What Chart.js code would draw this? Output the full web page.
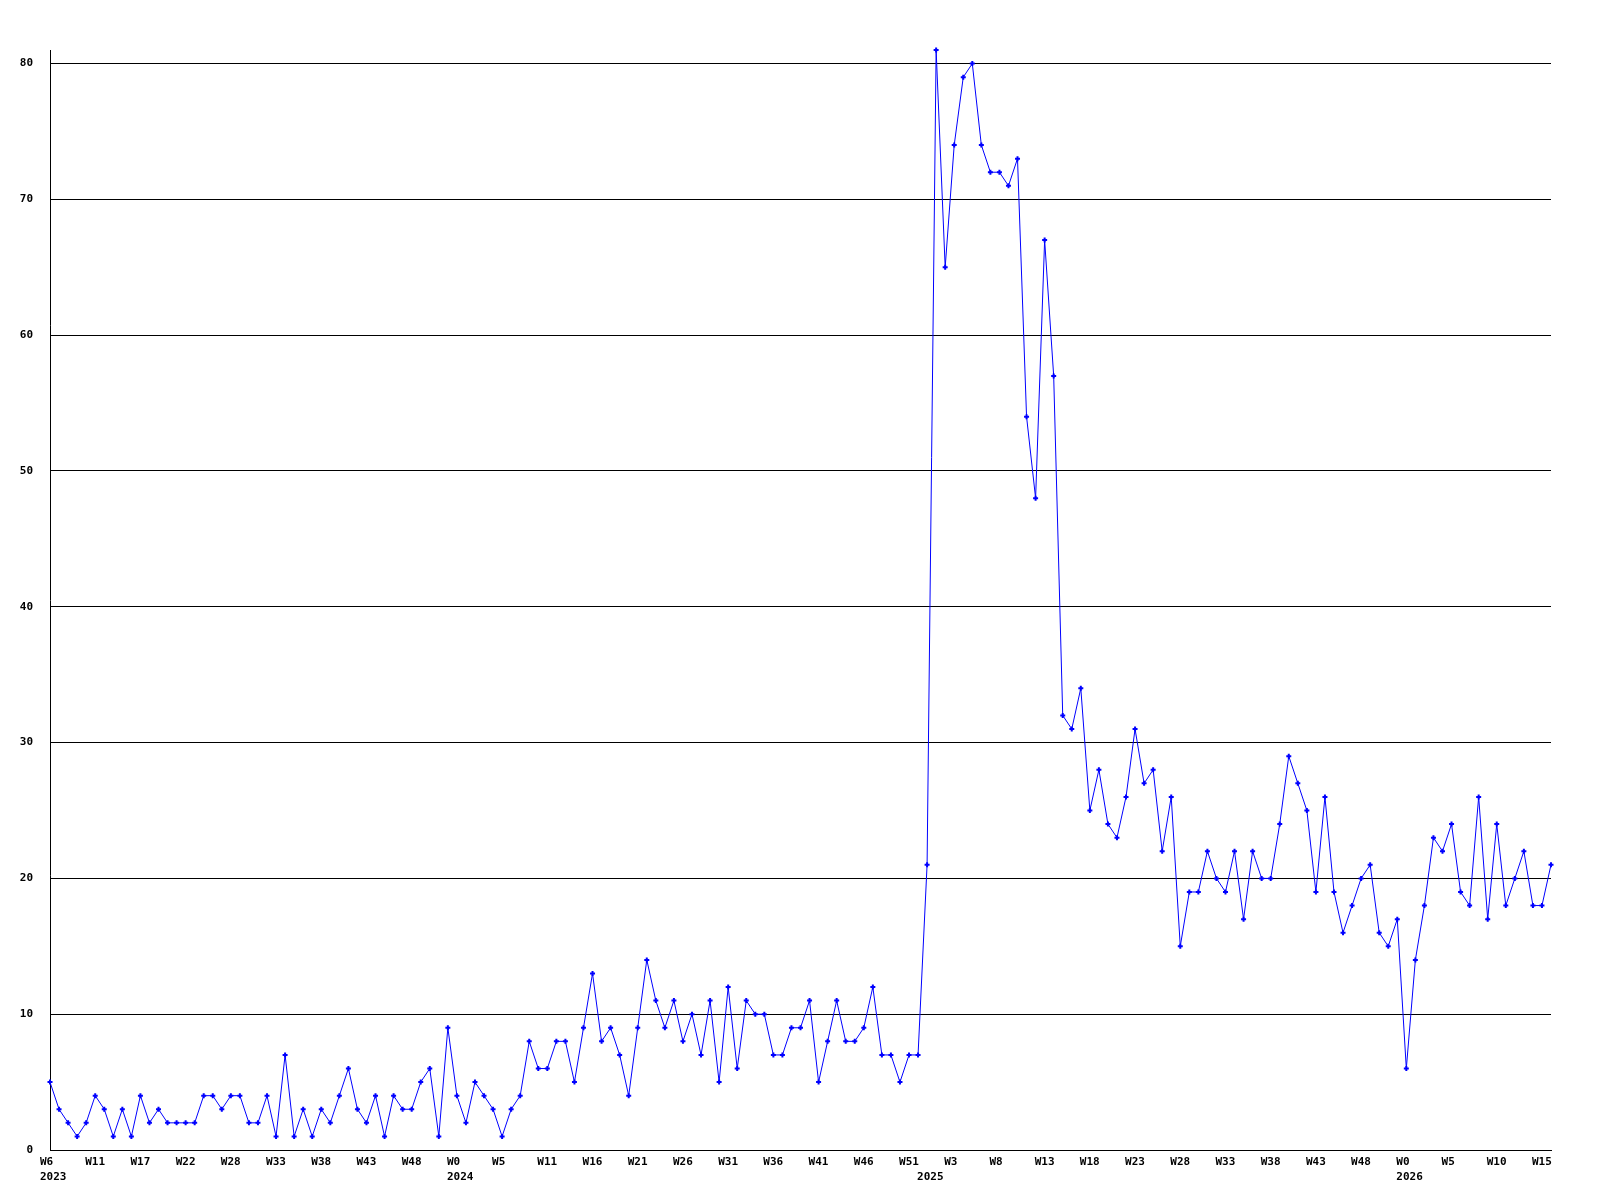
<!DOCTYPE html>
<html>
<head>
<meta charset="utf-8">
<script src="https://cdn.jsdelivr.net/npm/chart.js@4.4.1/dist/chart.umd.min.js"></script>
<style>
  body { margin: 0; background: #fff; }
  #chart { display: block; }
</style>
</head>
<body>
<canvas id="chart" width="1600" height="1200"></canvas>
<script>
// weekly counts, W6 2023 .. W16 2026
var counts = [
  5, 3, 2, 1, 2, 4, 3, 1, 3, 1, 4, 2, 3, 2, 2, 2, 2, 4, 4, 3, 4, 4, 2, 2, 4, 1, 7, 1, 3, 1, 3, 2, 4,
  6, 3, 2, 4, 1, 4, 3, 3, 5, 6, 1, 9, 4, 2, 5, 4, 3, 1, 3, 4, 8, 6, 6, 8, 8, 5, 9, 13, 8, 9, 7, 4, 9, 14, 11, 9,
  11, 8, 10, 7, 11, 5, 12, 6, 11, 10, 10, 7, 7, 9, 9, 11, 5, 8, 11, 8, 8, 9, 12, 7, 7, 5, 7, 7,
  21, 81, 65, 74, 79, 80, 74, 72, 72, 71, 73, 54, 48, 67, 57,
  32, 31, 34, 25, 28, 24, 23, 26, 31, 27, 28, 22, 26, 15, 19, 19, 22, 20, 19, 22, 17, 22, 20, 20, 24,
  29, 27, 25, 19, 26, 19, 16, 18, 20, 21, 16, 15, 17, 6, 14, 18, 23, 22, 24, 19, 18, 26, 17, 24, 18, 20, 22, 18, 18, 21
];

// a week label every 5th point
var weekTicks = ['W6', 'W11', 'W17', 'W22', 'W28', 'W33', 'W38', 'W43', 'W48',
  'W0', 'W5', 'W11', 'W16', 'W21', 'W26', 'W31', 'W36', 'W41', 'W46', 'W51',
  'W3', 'W8', 'W13', 'W18', 'W23', 'W28', 'W33', 'W38', 'W43', 'W48',
  'W0', 'W5', 'W10', 'W15'];
var weekTickStep = 5;

// year under the first point of each year
var years = ['2023', '2024', '2025', '2026'];
var yearStart = [0, 45, 97, 150];

var categories = counts.map(function(v, i) {
  var lines = [i % weekTickStep === 0 ? (weekTicks[i / weekTickStep] || '') : ''];
  var y = yearStart.indexOf(i);
  if (y >= 0) lines.push(years[y]);
  return lines;
});

var tickFont = { family: '"DejaVu Sans Mono", monospace', size: 11, weight: 'bold', lineHeight: 1.36 };

new Chart(document.getElementById('chart'), {
  type: 'line',
  data: {
    labels: categories,
    datasets: [{
      data: counts,
      borderColor: '#0000ff',
      backgroundColor: '#0000ff',
      borderWidth: 1,
      tension: 0,
      clip: false,
      pointStyle: 'cross',
      pointRadius: 2.5,
      pointBorderWidth: 2,
      pointHoverRadius: 2.5
    }]
  },
  options: {
    responsive: false,
    animation: false,
    devicePixelRatio: 1,
    layout: { padding: { left: 0, right: 49, top: 50, bottom: 0 } },
    plugins: { legend: { display: false }, tooltip: { enabled: false } },
    scales: {
      x: {
        offset: false,
        grid: { display: false, drawTicks: false },
        border: { display: true, color: '#000', width: 1 },
        ticks: {
          autoSkip: false,
          maxRotation: 0,
          minRotation: 0,
          align: 'start',
          labelOffset: -10,
          padding: 5,
          color: '#000',
          font: tickFont,
          callback: function(value, index) {
            var l = categories[index];
            if (l.length === 1 && l[0] === '') return '';
            return l;
          }
        },
        afterFit: function(scale) { scale.height = 50; }
      },
      y: {
        min: 0,
        max: Math.max.apply(null, counts),
        grid: { color: '#000', lineWidth: 1, drawTicks: false },
        border: { display: true, color: '#000', width: 1 },
        ticks: {
          stepSize: 10,
          includeBounds: false,
          padding: 17,
          color: '#000',
          font: tickFont
        },
        afterFit: function(scale) { scale.width = 50; }
      }
    }
  }
});
</script>
</body>
</html>
